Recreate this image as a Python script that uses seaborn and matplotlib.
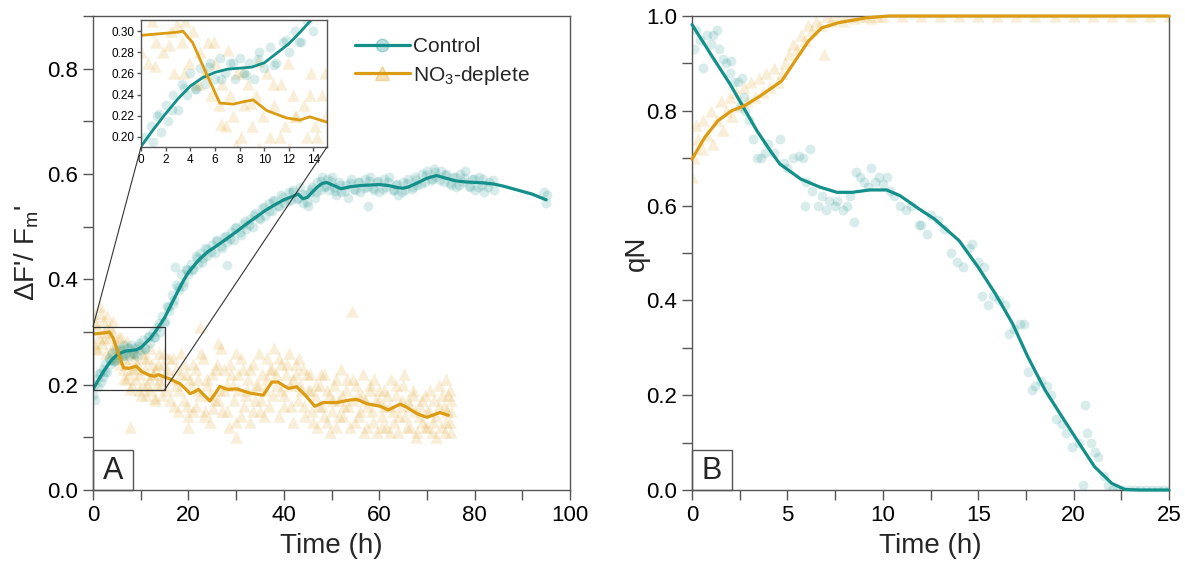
import numpy as np
import pandas as pd
import matplotlib
matplotlib.use("Agg")
import matplotlib.pyplot as plt
import seaborn as sns
from matplotlib.patches import Rectangle, ConnectionPatch
from matplotlib.lines import Line2D
from matplotlib.ticker import MultipleLocator

# ---------------- data ----------------
# Panel A: control scatter (two read-off passes of the point cloud)
ctrlA_t = [0.0, 0.3, 0.5, 0.8, 1.0, 1.3, 1.6, 2.0, 2.2, 2.6, 3.0, 3.3, 3.7, 4.0, 4.4, 4.8, 5.2, 5.6, 6.0, 6.4,
           6.8, 7.2, 7.6, 8.0, 8.4, 8.8, 9.2, 9.6, 10.0, 10.5, 11.0, 11.5, 12.0, 12.5, 13.0, 13.5, 14.0, 14.5,
           15.0, 15.5, 16.0, 16.5, 17.0, 17.2, 17.5, 18.0, 18.5, 19.0, 19.5, 20.0, 20.5, 21.0, 21.5, 22.0, 22.5,
           23.0, 23.5, 24.0, 25.0, 25.5, 26.0, 27.0, 27.5, 28.0, 28.0, 29.0, 29.5, 30.0, 31.0, 31.5, 32.0, 33.0,
           33.5, 34.0, 35.0, 35.5, 36.0, 37.0, 37.5, 38.0, 39.0, 39.5, 40.0, 41.0, 41.5, 42.0, 43.0, 43.5, 44.0,
           44.5, 45.0, 45.5, 46.0, 46.5, 47.0, 47.5, 48.0, 48.5, 49.0, 49.5, 50.0, 50.5, 51.0, 51.5, 52.0, 53.0,
           53.5, 54.0, 55.0, 55.5, 56.0, 57.0, 57.5, 57.6, 58.0, 59.0, 59.5, 60.0, 61.0, 61.5, 62.0, 63.0, 63.5,
           64.0, 65.0, 65.5, 66.0, 67.0, 67.5, 68.0, 69.0, 69.5, 70.0, 71.0, 71.5, 72.0, 73.0, 73.5, 74.0, 75.0,
           75.5, 76.0, 77.0, 77.5, 78.0, 79.0, 79.5, 80.0, 81.0, 81.5, 82.0, 83.0, 84.0, 94.5, 95.0, 95.2]
ctrlA_v = [0.18, 0.20, 0.17, 0.21, 0.195, 0.22, 0.205, 0.23, 0.215, 0.24, 0.225, 0.25, 0.24, 0.26, 0.245, 0.265,
           0.25, 0.27, 0.255, 0.275, 0.26, 0.27, 0.255, 0.275, 0.26, 0.27, 0.255, 0.28, 0.265, 0.285, 0.27, 0.29,
           0.28, 0.30, 0.29, 0.31, 0.30, 0.33, 0.32, 0.35, 0.34, 0.37, 0.36, 0.423, 0.39, 0.38, 0.41, 0.395, 0.42,
           0.41, 0.43, 0.42, 0.445, 0.43, 0.45, 0.44, 0.46, 0.445, 0.465, 0.45, 0.475, 0.46, 0.48, 0.47, 0.427,
           0.49, 0.475, 0.50, 0.485, 0.505, 0.495, 0.515, 0.50, 0.525, 0.515, 0.535, 0.52, 0.545, 0.53, 0.55, 0.54,
           0.56, 0.545, 0.565, 0.55, 0.57, 0.555, 0.575, 0.545, 0.56, 0.54, 0.565, 0.575, 0.555, 0.585, 0.57, 0.595,
           0.575, 0.59, 0.57, 0.595, 0.575, 0.56, 0.585, 0.565, 0.58, 0.555, 0.59, 0.57, 0.585, 0.565, 0.59, 0.575,
           0.54, 0.595, 0.57, 0.585, 0.565, 0.59, 0.575, 0.595, 0.57, 0.58, 0.56, 0.585, 0.57, 0.59, 0.575, 0.595,
           0.58, 0.60, 0.585, 0.605, 0.59, 0.61, 0.595, 0.605, 0.585, 0.60, 0.58, 0.595, 0.575, 0.60, 0.585, 0.605,
           0.575, 0.59, 0.57, 0.595, 0.58, 0.565, 0.585, 0.57, 0.565, 0.545, 0.56]
ctrlA2_t = [1.5, 2.5, 3.5, 4.5, 5.5, 6.5, 7.5, 8.5, 9.5, 10.8, 11.8, 12.8, 13.8, 14.8, 15.8, 16.8, 17.8, 18.8,
            19.8, 20.8, 21.8, 22.8, 23.8, 24.8, 25.8, 26.8, 27.8, 28.8, 29.8, 30.8, 31.8, 32.8, 33.8, 34.8, 35.8,
            36.8, 37.8, 38.8, 39.8, 40.8, 41.8, 42.8, 43.8, 44.8, 45.8, 46.8, 47.8, 48.8, 49.8, 50.8, 51.8, 52.8,
            53.8, 54.8, 55.8, 56.8, 57.8, 58.8, 59.8, 60.8, 61.8, 62.8, 63.8, 64.8, 65.8, 66.8, 67.8, 68.8, 69.8,
            70.8, 71.8, 72.8, 73.8, 74.8, 75.8, 76.8, 77.8, 78.8, 79.8, 80.8, 81.8, 82.8, 83.8]
ctrlA2_v = [0.222, 0.225, 0.246, 0.245, 0.266, 0.255, 0.270, 0.259, 0.274, 0.268, 0.292, 0.290, 0.318, 0.318,
            0.347, 0.353, 0.385, 0.388, 0.418, 0.418, 0.440, 0.432, 0.457, 0.451, 0.472, 0.463, 0.483, 0.476,
            0.497, 0.490, 0.510, 0.503, 0.523, 0.516, 0.537, 0.529, 0.548, 0.539, 0.557, 0.548, 0.565, 0.553,
            0.562, 0.546, 0.572, 0.566, 0.587, 0.577, 0.587, 0.568, 0.579, 0.567, 0.583, 0.571, 0.585, 0.573,
            0.586, 0.573, 0.587, 0.572, 0.585, 0.569, 0.581, 0.566, 0.582, 0.571, 0.589, 0.581, 0.599, 0.588,
            0.604, 0.588, 0.599, 0.583, 0.594, 0.579, 0.592, 0.577, 0.591, 0.576, 0.590, 0.575, 0.588]

# Panel A: control smoothed line
ctrlA_line_t = [0, 1, 2, 3, 4, 5, 6, 7, 8, 9, 10, 11, 12, 13, 14, 15, 16, 17, 18, 19, 20, 22, 24, 26, 28, 30,
                32, 34, 36, 38, 40, 42, 43, 44, 45, 46, 47, 48, 49, 50, 52, 54, 56, 58, 60, 62, 64, 65, 66, 68,
                70, 72, 74, 76, 78, 80, 82, 84, 86, 88, 90, 92, 95]
ctrlA_line_v = [0.191, 0.207, 0.222, 0.236, 0.248, 0.256, 0.261, 0.264, 0.265, 0.266, 0.270, 0.279, 0.288,
                0.300, 0.313, 0.327, 0.345, 0.363, 0.381, 0.398, 0.413, 0.435, 0.452, 0.464, 0.477, 0.490,
                0.504, 0.517, 0.530, 0.541, 0.551, 0.558, 0.562, 0.553, 0.556, 0.566, 0.575, 0.582, 0.584,
                0.580, 0.572, 0.576, 0.578, 0.579, 0.580, 0.578, 0.574, 0.573, 0.575, 0.583, 0.592, 0.597,
                0.592, 0.587, 0.585, 0.584, 0.583, 0.581, 0.577, 0.572, 0.567, 0.562, 0.551]

# Panel A: NO3-deplete scatter (two read-off passes of the point cloud)
depA_t = [0.0, 0.3, 0.6, 0.9, 1.2, 1.5, 1.8, 2.1, 2.4, 2.7, 3.0, 3.3, 3.6, 3.9, 4.2, 4.5, 4.8, 5.1, 5.4, 5.7,
          6.0, 6.3, 6.6, 6.9, 7.2, 7.5, 7.8, 7.8, 8.1, 8.4, 8.7, 9.0, 9.3, 9.6, 9.9, 10.2, 10.5, 10.8, 11.1,
          11.4, 11.7, 12.0, 12.3, 12.6, 12.9, 13.2, 13.5, 13.8, 14.1, 14.4, 14.7, 15.0, 15.5, 16.0, 16.5, 17.0,
          17.5, 18.0, 18.5, 19.0, 19.5, 20.0, 20.0, 20.5, 21.0, 21.5, 22.0, 22.4, 22.5, 23.0, 23.5, 24.0, 24.5,
          25.0, 25.5, 26.0, 26.2, 26.5, 27.0, 27.5, 28.0, 28.5, 29.0, 29.5, 30.0, 30.0, 30.5, 31.0, 31.5, 32.0,
          32.5, 33.0, 33.5, 34.0, 34.5, 35.0, 35.5, 36.0, 36.5, 37.0, 37.5, 38.0, 38.5, 39.0, 39.5, 40.0, 40.5,
          41.0, 41.5, 42.0, 42.5, 43.0, 43.5, 44.0, 44.5, 45.0, 45.5, 46.0, 46.5, 47.0, 47.5, 48.0, 48.5, 49.0,
          49.5, 50.0, 50.5, 51.0, 51.5, 52.0, 52.5, 53.0, 53.5, 54.2, 54.5, 55.0, 55.5, 56.0, 56.5, 57.0, 57.5,
          58.0, 58.5, 59.0, 59.5, 60.0, 60.5, 61.0, 61.5, 62.0, 62.5, 63.0, 63.5, 64.0, 64.5, 65.0, 65.5, 66.0,
          66.5, 67.0, 67.5, 68.0, 68.5, 69.0, 69.5, 70.0, 70.5, 71.0, 71.5, 72.0, 72.5, 73.0, 73.5, 74.0, 74.0,
          74.5, 74.8, 75.0, 75.0]
depA_v = [0.28, 0.33, 0.27, 0.31, 0.29, 0.35, 0.28, 0.32, 0.30, 0.26, 0.33, 0.29, 0.31, 0.27, 0.30, 0.25, 0.28,
          0.26, 0.29, 0.24, 0.27, 0.23, 0.25, 0.21, 0.24, 0.22, 0.26, 0.12, 0.20, 0.23, 0.25, 0.21, 0.24, 0.19,
          0.22, 0.26, 0.20, 0.23, 0.18, 0.25, 0.21, 0.19, 0.24, 0.22, 0.17, 0.23, 0.20, 0.26, 0.21, 0.18, 0.24,
          0.22, 0.19, 0.25, 0.21, 0.16, 0.23, 0.19, 0.26, 0.17, 0.22, 0.14, 0.12, 0.20, 0.24, 0.16, 0.21, 0.31,
          0.18, 0.25, 0.15, 0.20, 0.13, 0.22, 0.17, 0.24, 0.28, 0.19, 0.15, 0.23, 0.20, 0.12, 0.22, 0.17, 0.26,
          0.10, 0.19, 0.14, 0.23, 0.18, 0.21, 0.13, 0.24, 0.17, 0.20, 0.15, 0.22, 0.19, 0.25, 0.16, 0.23, 0.27,
          0.20, 0.14, 0.24, 0.18, 0.22, 0.26, 0.16, 0.21, 0.24, 0.17, 0.20, 0.23, 0.14, 0.19, 0.22, 0.15, 0.18,
          0.12, 0.20, 0.16, 0.22, 0.13, 0.18, 0.15, 0.20, 0.12, 0.17, 0.23, 0.14, 0.19, 0.16, 0.34, 0.21, 0.13,
          0.18, 0.15, 0.22, 0.17, 0.12, 0.19, 0.15, 0.21, 0.11, 0.17, 0.14, 0.19, 0.12, 0.16, 0.21, 0.13, 0.18,
          0.11, 0.16, 0.20, 0.14, 0.17, 0.12, 0.19, 0.15, 0.11, 0.16, 0.13, 0.18, 0.12, 0.15, 0.11, 0.17, 0.14,
          0.20, 0.12, 0.16, 0.13, 0.21, 0.18, 0.19, 0.15, 0.11]
depA2_t = [0.5, 1.1, 1.7, 2.3, 2.9, 3.5, 4.1, 4.7, 5.3, 5.9, 6.5, 7.1, 7.7, 8.3, 8.9, 9.5, 10.1, 10.7, 11.3,
           11.9, 12.5, 13.1, 13.7, 14.3, 14.9, 15.5, 16.1, 16.7, 17.3, 17.9, 18.5, 19.1, 19.7, 20.3, 20.9, 21.5,
           22.1, 22.7, 23.3, 23.9, 24.5, 25.1, 25.7, 26.3, 26.9, 27.5, 28.1, 28.7, 29.3, 29.9, 30.5, 31.1, 31.7,
           32.3, 32.9, 33.5, 34.1, 34.7, 35.3, 35.9, 36.5, 37.1, 37.7, 38.3, 38.9, 39.5, 40.1, 40.7, 41.3, 41.9,
           42.5, 43.1, 43.7, 44.3, 44.9, 45.5, 46.1, 46.7, 47.3, 47.9, 48.5, 49.1, 49.7, 50.3, 50.9, 51.5, 52.1,
           52.7, 53.3, 53.9, 54.5, 55.1, 55.7, 56.3, 56.9, 57.5, 58.1, 58.7, 59.3, 59.9, 60.5, 61.1, 61.7, 62.3,
           62.9, 63.5, 64.1, 64.7, 65.3, 65.9, 66.5, 67.1, 67.7, 68.3, 68.9, 69.5, 70.1, 70.7, 71.3, 71.9, 72.5,
           73.1, 73.7, 74.3, 74.9, 75.1]
depA2_v = [0.317, 0.267, 0.337, 0.287, 0.307, 0.26, 0.32, 0.25, 0.26, 0.29, 0.212, 0.282, 0.192, 0.262, 0.232,
           0.272, 0.18, 0.25, 0.20, 0.27, 0.22, 0.175, 0.24, 0.20, 0.26, 0.23, 0.17, 0.25, 0.20, 0.15, 0.22, 0.24,
           0.16, 0.21, 0.15, 0.23, 0.19, 0.26, 0.14, 0.21, 0.18, 0.155, 0.23, 0.17, 0.27, 0.19, 0.15, 0.24, 0.20,
           0.13, 0.22, 0.25, 0.16, 0.19, 0.23, 0.15, 0.20, 0.26, 0.17, 0.14, 0.21, 0.23, 0.18, 0.22, 0.25, 0.19,
           0.16, 0.24, 0.20, 0.13, 0.22, 0.25, 0.19, 0.16, 0.22, 0.19, 0.13, 0.20, 0.16, 0.22, 0.14, 0.19, 0.11,
           0.17, 0.21, 0.14, 0.18, 0.16, 0.21, 0.12, 0.17, 0.20, 0.14, 0.18, 0.11, 0.16, 0.20, 0.13, 0.17, 0.19,
           0.12, 0.16, 0.18, 0.11, 0.15, 0.20, 0.14, 0.17, 0.22, 0.12, 0.16, 0.18, 0.10, 0.14, 0.17, 0.12, 0.15,
           0.19, 0.13, 0.10, 0.16, 0.18, 0.11, 0.15, 0.13, 0.17]

# Panel A: NO3-deplete smoothed line
depA_line_t = [0, 1, 2, 3, 3.4, 4.2, 5.3, 6.4, 7.5, 8.2, 9.1, 10.2, 11.8, 12.9, 13.7, 15.1, 16.1, 17.2, 18.2,
               19.3, 20.3, 21.2, 22.1, 23.3, 24.5, 25.6, 26.6, 27.5, 28.4, 30.1, 31.5, 32.9, 35.7, 37.5, 38.8,
               40.0, 41.0, 42.7, 44.5, 46.5, 48.3, 51.1, 53.9, 55.3, 57.4, 60.2, 61.9, 64.4, 65.8, 67.9, 70.0,
               72.7, 74.5]
depA_line_v = [0.296, 0.297, 0.298, 0.299, 0.300, 0.289, 0.260, 0.232, 0.231, 0.233, 0.235, 0.225, 0.218,
               0.216, 0.219, 0.214, 0.211, 0.206, 0.202, 0.193, 0.183, 0.186, 0.191, 0.180, 0.169, 0.183,
               0.197, 0.193, 0.191, 0.192, 0.188, 0.184, 0.180, 0.205, 0.205, 0.198, 0.193, 0.196, 0.180,
               0.159, 0.166, 0.166, 0.171, 0.172, 0.164, 0.159, 0.152, 0.163, 0.157, 0.145, 0.138, 0.147,
               0.142]

# Panel B: control (qN) scatter
ctrlB_t = [0.1, 0.2, 0.4, 0.6, 0.8, 1.0, 1.1, 1.3, 1.4, 1.6, 1.8, 2.0, 2.05, 2.2, 2.4, 2.5, 2.6, 2.7, 2.8,
           3.0, 3.2, 3.4, 3.6, 3.8, 4.0, 4.3, 4.6, 4.8, 5.0, 5.3, 5.6, 5.8, 6.0, 6.2, 5.9, 6.3, 6.6, 6.8, 7.0,
           7.2, 7.5, 7.6, 7.9, 8.1, 8.3, 8.5, 8.6, 8.8, 9.0, 9.2, 9.4, 9.6, 9.8, 10.0, 10.2, 10.4, 10.6, 10.9,
           11.2, 11.5, 11.9, 12.0, 12.3, 12.5, 12.9, 13.2, 13.6, 13.9, 14.2, 14.5, 14.7, 15.0, 15.3, 15.2, 15.5,
           15.8, 16.1, 16.4, 16.6, 16.9, 17.2, 17.4, 17.6, 17.8, 18.0, 18.3, 18.6, 18.8, 19.1, 19.4, 19.6, 19.9,
           20.3, 20.6, 20.7, 20.9, 21.1, 21.3, 20.5, 21.6, 21.8, 22.0, 22.3, 22.6, 22.9, 23.2, 23.5, 23.8, 24.1,
           24.4, 24.7, 25.0]
ctrlB_v = [0.93, 0.97, 0.95, 0.89, 0.96, 0.94, 0.96, 0.97, 0.93, 0.91, 0.90, 0.88, 0.905, 0.86, 0.86, 0.81,
           0.87, 0.83, 0.80, 0.78, 0.74, 0.70, 0.70, 0.71, 0.73, 0.71, 0.74, 0.69, 0.68, 0.70, 0.705, 0.70, 0.65,
           0.72, 0.60, 0.63, 0.60, 0.62, 0.59, 0.61, 0.60, 0.61, 0.59, 0.60, 0.62, 0.565, 0.67, 0.66, 0.65, 0.64,
           0.68, 0.65, 0.66, 0.645, 0.66, 0.63, 0.62, 0.60, 0.59, 0.60, 0.56, 0.56, 0.54, 0.58, 0.57, 0.55, 0.50,
           0.48, 0.47, 0.51, 0.52, 0.48, 0.47, 0.41, 0.39, 0.41, 0.40, 0.39, 0.33, 0.34, 0.35, 0.35, 0.25, 0.21,
           0.22, 0.23, 0.22, 0.20, 0.15, 0.14, 0.12, 0.09, 0.10, 0.18, 0.12, 0.10, 0.08, 0.07, 0.01, 0.03, 0.01,
           0.0, 0.0, 0.0, 0.0, 0.0, 0.0, 0.0, 0.0, 0.0, 0.0, 0.0]

# Panel B: control smoothed line
ctrlB_line_t = [0, 1.1, 2.0, 2.6, 3.4, 4.1, 4.6, 5.7, 6.7, 7.6, 8.4, 9.3, 10.2, 10.9, 11.9, 12.7, 14.0, 15.0,
                15.9, 16.8, 17.6, 18.5, 19.4, 20.3, 21.1, 22.0, 22.7, 23.5, 25.0]
ctrlB_line_v = [0.982, 0.912, 0.856, 0.814, 0.758, 0.716, 0.688, 0.656, 0.639, 0.628, 0.628, 0.633, 0.633,
                0.621, 0.593, 0.572, 0.526, 0.470, 0.414, 0.351, 0.281, 0.211, 0.154, 0.098, 0.049, 0.014,
                0.001, 0.0, 0.0]

# Panel B: NO3-deplete scatter
depB_t = [0.0, 0.1, 0.2, 0.3, 0.5, 0.6, 0.8, 1.0, 1.1, 1.3, 1.5, 1.6, 1.8, 2.0, 2.1, 2.3, 2.5, 2.7, 2.9, 3.1,
          3.3, 3.5, 3.7, 3.9, 4.1, 4.3, 4.5, 4.7, 4.9, 5.1, 5.3, 5.5, 5.7, 5.9, 6.1, 6.3, 6.5, 6.7, 6.9, 7.1,
          7.3, 7.6, 7.9, 8.2, 8.5, 8.8, 9.1, 9.4, 9.7, 10.0, 11.0, 12.0, 13.0, 14.0, 15.0, 16.0, 17.0, 18.0,
          19.0, 20.0, 21.0, 22.0, 23.0, 24.0, 25.0]
depB_v = [0.66, 0.70, 0.77, 0.74, 0.72, 0.78, 0.75, 0.80, 0.73, 0.78, 0.82, 0.76, 0.80, 0.83, 0.79, 0.84, 0.81,
          0.85, 0.82, 0.86, 0.83, 0.87, 0.84, 0.88, 0.85, 0.89, 0.86, 0.88, 0.90, 0.92, 0.94, 0.93, 0.96, 0.95,
          0.98, 0.97, 0.99, 0.98, 0.92, 1.0, 0.99, 1.0, 0.99, 1.0, 0.995, 1.0, 1.0, 0.995, 1.0, 1.0, 1.0, 1.0,
          1.0, 1.0, 1.0, 1.0, 1.0, 1.0, 1.0, 1.0, 1.0, 1.0, 1.0, 1.0, 1.0]

# Panel B: NO3-deplete smoothed line
depB_line_t = [0, 0.67, 1.36, 2.07, 2.77, 3.6, 4.7, 5.4, 6.1, 6.8, 7.7, 9.1, 10.3, 25.0]
depB_line_v = [0.698, 0.744, 0.779, 0.800, 0.811, 0.832, 0.863, 0.905, 0.947, 0.975, 0.986, 0.996, 1.0, 1.0]

x_ticks_A = [0, 20, 40, 60, 80, 100]
y_ticks_A = [0.0, 0.2, 0.4, 0.6, 0.8]
x_ticks_B = [0, 5, 10, 15, 20, 25]
y_ticks_B = [0.0, 0.2, 0.4, 0.6, 0.8, 1.0]
inset_x_ticks = [0, 2, 4, 6, 8, 10, 12, 14]
inset_y_ticks = [0.20, 0.22, 0.24, 0.26, 0.28, 0.30]

# ---------------- style ----------------
sns.set_style("ticks")
plt.rcParams["font.family"] = ["Liberation Sans", "DejaVu Sans"]
plt.rcParams["mathtext.fontset"] = "custom"
plt.rcParams["mathtext.rm"] = "Liberation Sans"
plt.rcParams["mathtext.it"] = "Liberation Sans:italic"
plt.rcParams["mathtext.bf"] = "Liberation Sans:bold"

TEAL = "#14908B"
GOLD = "#DB9B12"
SPINE = "#555555"

fig = plt.figure(figsize=(11.85, 5.63), dpi=100)
W, H = 1185, 563


def px_axes(x0, y0, x1, y1):
    return [x0 / W, (H - y1) / H, (x1 - x0) / W, (y1 - y0) / H]


axA = fig.add_axes(px_axes(93, 16, 570, 490))
axB = fig.add_axes(px_axes(692, 16, 1169, 490))
axI = fig.add_axes(px_axes(141, 20, 327, 147))

dfA_c = pd.DataFrame({"t": ctrlA_t + ctrlA2_t, "v": ctrlA_v + ctrlA2_v})
dfA_d = pd.DataFrame({"t": depA_t + depA2_t, "v": depA_v + depA2_v})
dfA_cl = pd.DataFrame({"t": ctrlA_line_t, "v": ctrlA_line_v})
dfA_dl = pd.DataFrame({"t": depA_line_t, "v": depA_line_v})
dfB_c = pd.DataFrame({"t": ctrlB_t, "v": ctrlB_v})
dfB_d = pd.DataFrame({"t": depB_t, "v": depB_v})
dfB_cl = pd.DataFrame({"t": ctrlB_line_t, "v": ctrlB_line_v})
dfB_dl = pd.DataFrame({"t": depB_line_t, "v": depB_line_v})


def draw_series(ax, dc, dd, dcl, ddl, lw=2.3):
    sns.scatterplot(data=dd, x="t", y="v", ax=ax, marker="^", s=80, color=GOLD, alpha=0.16,
                    linewidth=0, legend=False)
    sns.scatterplot(data=dc, x="t", y="v", ax=ax, marker="o", s=50, color=TEAL, alpha=0.17,
                    linewidth=0, legend=False)
    sns.lineplot(data=dcl, x="t", y="v", ax=ax, color=TEAL, lw=lw, estimator=None, sort=False)
    sns.lineplot(data=ddl, x="t", y="v", ax=ax, color=GOLD, lw=lw, estimator=None, sort=False)


def style_axes(ax, labelsize=13, length=7):
    for sp in ax.spines.values():
        sp.set_visible(True)
        sp.set_color(SPINE)
        sp.set_linewidth(1.0)
    ax.tick_params(which="both", direction="out", length=length, width=1, color=SPINE,
                   labelsize=labelsize, labelcolor="black")


# ---- Panel A ----
draw_series(axA, dfA_c, dfA_d, dfA_cl, dfA_dl)
axA.set_xlim(0, 100)
axA.set_ylim(0, 0.9)
axA.set_xticks(x_ticks_A)
axA.set_yticks(y_ticks_A)
axA.set_xticklabels([str(v) for v in x_ticks_A])
axA.set_yticklabels([f"{v:.1f}" for v in y_ticks_A])
axA.xaxis.set_minor_locator(MultipleLocator(10))
axA.yaxis.set_minor_locator(MultipleLocator(0.1))
style_axes(axA, labelsize=16)
axA.set_xlabel("Time (h)", fontsize=20, labelpad=5)
axA.set_ylabel("ΔF'/ F$_{\\rm m}$'", fontsize=20)
axA.yaxis.set_label_coords(-0.108, 0.5)

# zoom rectangle
axA.add_patch(Rectangle((0, 0.19), 15, 0.12, fill=False, ec="#333333", lw=0.9, zorder=5))

# panel letter box
axA.add_patch(Rectangle((0, 0), 0.084, 0.084, transform=axA.transAxes, fill=False,
                        ec=SPINE, lw=1, clip_on=False, zorder=6))
axA.text(0.042, 0.040, "A", transform=axA.transAxes, fontsize=22, ha="center", va="center")

# legend
handles = [
    Line2D([0], [0], color=TEAL, lw=2.3, marker="o", markersize=9,
           markerfacecolor=(0.08, 0.56, 0.55, 0.3), markeredgecolor=(0.08, 0.56, 0.55, 0.3)),
    Line2D([0], [0], color=GOLD, lw=2.3, marker="^", markersize=10,
           markerfacecolor=(0.86, 0.61, 0.07, 0.3), markeredgecolor=(0.86, 0.61, 0.07, 0.3)),
]
axA.legend(handles, ["Control", "NO$_{\\rm 3}$-deplete"], loc="upper left",
           bbox_to_anchor=(0.55, 0.955), frameon=False, fontsize=15, handlelength=2.6,
           handletextpad=0.15, labelspacing=0.35, borderaxespad=0, borderpad=0)

# ---- Inset ----
draw_series(axI, dfA_c, dfA_d, dfA_cl, dfA_dl, lw=2.0)
axI.set_xlim(0, 15.1)
axI.set_ylim(0.1905, 0.3105)
axI.set_xticks(inset_x_ticks)
axI.set_yticks(inset_y_ticks)
axI.set_xticklabels([str(v) for v in inset_x_ticks])
axI.set_yticklabels([f"{v:.2f}" for v in inset_y_ticks])
style_axes(axI, labelsize=8.5, length=3)
axI.tick_params(pad=2)
axI.set_xlabel("")
axI.set_ylabel("")
axI.set_facecolor("white")

for xyA, xyB in [((0, 0.31), (0, 0)), ((15, 0.19), (1, 0))]:
    con = ConnectionPatch(xyA=xyA, coordsA=axA.transData, xyB=xyB, coordsB=axI.transAxes,
                          color="#333333", lw=0.8, zorder=1)
    fig.add_artist(con)

# ---- Panel B ----
draw_series(axB, dfB_c, dfB_d, dfB_cl, dfB_dl)
for ln in axB.lines:
    ln.set_clip_on(False)
    ln.set_zorder(3)
axB.set_xlim(0, 25)
axB.set_ylim(0, 1.0)
axB.set_xticks(x_ticks_B)
axB.set_yticks(y_ticks_B)
axB.set_xticklabels([str(v) for v in x_ticks_B])
axB.set_yticklabels([f"{v:.1f}" for v in y_ticks_B])
axB.xaxis.set_minor_locator(MultipleLocator(2.5))
axB.yaxis.set_minor_locator(MultipleLocator(0.1))
style_axes(axB, labelsize=16)
axB.set_xlabel("Time (h)", fontsize=20, labelpad=5)
axB.set_ylabel("qN", fontsize=20)
axB.yaxis.set_label_coords(-0.088, 0.5)
axB.add_patch(Rectangle((0, 0), 0.084, 0.084, transform=axB.transAxes, fill=False,
                        ec=SPINE, lw=1, clip_on=False, zorder=6))
axB.text(0.042, 0.040, "B", transform=axB.transAxes, fontsize=22, ha="center", va="center")

fig.savefig("out.png", dpi=100, facecolor="white")
